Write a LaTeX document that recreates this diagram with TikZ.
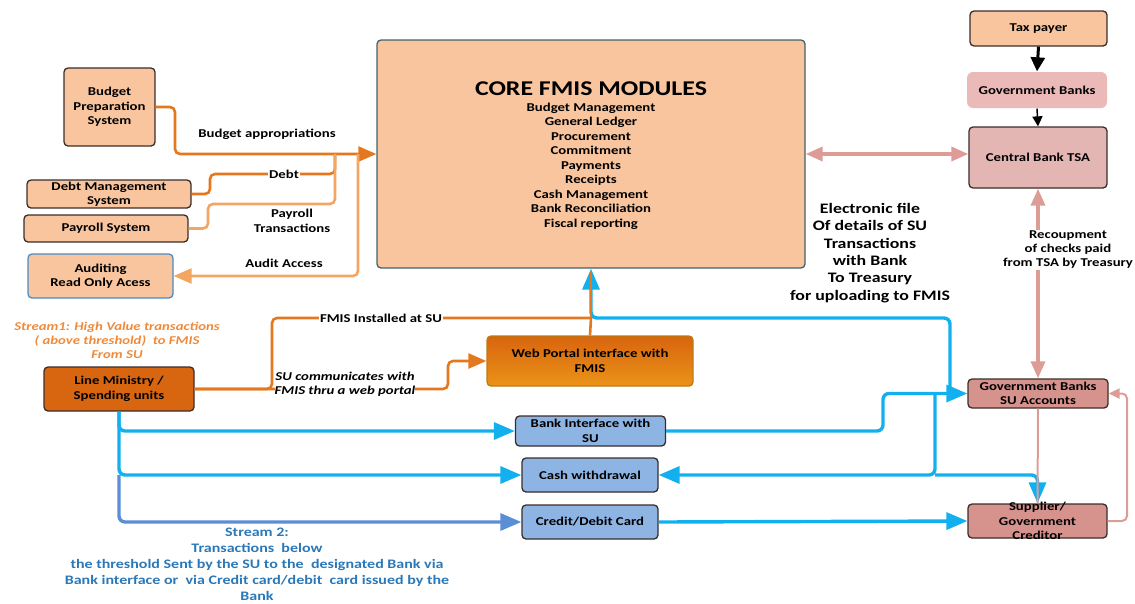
\documentclass[tikz,border=0pt]{standalone}
\usepackage{fontspec}
\setmainfont{Carlito}[FakeStretch=1.23]
\usepackage{tikz}
\usetikzlibrary{arrows.meta}
\newcommand{\pixel}{1pt}
\newcommand{\boxfont}{\fontsize{12}{14.5}\selectfont\bfseries}
\definecolor{peach}{HTML}{F8C59E}
\definecolor{boxline}{HTML}{3A2E2A}
\definecolor{coreline}{HTML}{41646A}
\definecolor{auditline}{HTML}{4A8CC8}
\definecolor{pinklight}{HTML}{EBBAB8}
\definecolor{pinkmid}{HTML}{E3B6B4}
\definecolor{pinkdark}{HTML}{D6938D}
\definecolor{pinkarrow}{HTML}{DE9C97}
\definecolor{orangedark}{HTML}{E5781E}
\definecolor{orangelight}{HTML}{F3A562}
\definecolor{ministry}{HTML}{D8650F}
\definecolor{bluebox}{HTML}{8EB4E3}
\definecolor{cyanflow}{HTML}{12B0EE}
\definecolor{steelflow}{HTML}{5A8ED6}
\definecolor{streamorange}{HTML}{EE8A3C}
\definecolor{streamblue}{HTML}{2A78B8}
\tikzset{
	box/.style={draw=boxline, line width=1.3pt, rounded corners=4pt, align=center, inner sep=0pt, font=\boxfont},
	peachbox/.style={box, fill=peach},
	pinkbox/.style={box, fill=pinkdark},
	bluebox/.style={box, fill=bluebox},
	lbl/.style={align=center, inner sep=1pt, font=\boxfont},
	into/.style={-{Triangle[length=21pt,width=17pt]}},
	feed/.style={-{Triangle[length=18pt,width=15pt]}},
	orangeline/.style={draw=orangedark, line width=2.6pt},
	orangethin/.style={draw=orangelight, line width=2.6pt},
	cyanline/.style={draw=cyanflow, line width=3.4pt},
	steelline/.style={draw=steelflow, line width=3.4pt},
	pinkline/.style={draw=pinkarrow, line width=3.4pt, {Triangle[length=17pt,width=14pt]}-{Triangle[length=17pt,width=14pt]}},
	pinkthin/.style={draw=pinkarrow, line width=2pt}
}

\begin{document}
\begin{tikzpicture}[x=\pixel,y=-\pixel]
	\useasboundingbox (0,0) rectangle (1135,603);

	\node[box, fill=peach, draw=coreline, minimum width=428, minimum height=228] (core) at (591,154) {};
	\node[lbl, font=\fontsize{21}{25}\selectfont\bfseries] (coretitle) at (591,89) {CORE FMIS MODULES};
	\node[lbl] (corelist) at (591,166) {Budget Management\\General Ledger\\Procurement\\Commitment\\Payments\\Receipts\\Cash Management\\Bank Reconciliation\\Fiscal reporting};

	\node[peachbox, minimum width=91, minimum height=78] (bps) at (109.5,107) {Budget\\Preparation\\System};
	\node[peachbox, minimum width=164, minimum height=28] (dms) at (109,194) {Debt Management\\System};
	\node[peachbox, minimum width=164, minimum height=27] (pay) at (106,228.5) {Payroll System};
	\node[peachbox, draw=auditline, minimum width=145, minimum height=44] (aud) at (100.5,276) {Auditing\\Read Only Acess};

	\node[peachbox, minimum width=137, minimum height=35] (tax) at (1038.5,28.5) {Tax payer};
	\node[box, draw=none, fill=pinklight, rounded corners=6pt, minimum width=140, minimum height=36] (gb) at (1037,90) {Government Banks};
	\node[box, fill=pinkmid, minimum width=138, minimum height=61] (tsa) at (1038,157.5) {Central Bank TSA};
	\node[pinkbox, minimum width=140, minimum height=29] (suacc) at (1038,393.5) {Government Banks\\SU Accounts};
	\node[pinkbox, minimum width=139, minimum height=34] (supplier) at (1037.5,521) {};
	\node[lbl, inner sep=0pt] (suppliertext) at (supplier) {Supplier/\\Government\\Creditor};

	\node[box, fill=ministry, minimum width=150, minimum height=44] (lm) at (119,389) {Line Ministry /\\Spending units};
	\node[box, draw=orangedark!60!olive, top color=ministry, bottom color=orangedark!80!yellow, minimum width=206, minimum height=50] (web) at (590,361) {Web Portal interface with\\FMIS};
	\node[bluebox, minimum width=150, minimum height=30] (bank) at (590.5,431) {Bank Interface with\\SU};
	\node[bluebox, minimum width=136, minimum height=34] (cash) at (590,475) {Cash withdrawal};
	\node[bluebox, minimum width=136, minimum height=34] (card) at (590,522) {Credit/Debit Card};

	\coordinate (budgetbend) at (175,154);
	\coordinate (debtbend) at (210,174);
	\coordinate (payrollbend) at (208,204);
	\coordinate (merge) at (335,154);
	\coordinate (auditbend) at (358,154);
	\coordinate (installbend) at (272,318);
	\coordinate (fmisjoin) at (591,318);
	\coordinate (portalbend) at (448,389);
	\coordinate (bankbend) at (883,393.5);
	\coordinate (fmisup) at (950,393.5);
	\coordinate (cashsplit) at (935,393.5);
	\coordinate (lmsplit) at (lm.south |- cash.west);
	\coordinate (supplierbend) at (1127,393.5);

	\draw[orangeline, feed] (bps.east) [rounded corners=5pt] -| (budgetbend) -- (core.west) [sharp corners];
	\draw[orangeline, rounded corners=5pt] (dms.east) -| (debtbend) -| (merge);
	\draw[orangethin, rounded corners=5pt] (pay.east) -| (payrollbend) -| (merge);
	\draw[orangethin, feed] (auditbend) [rounded corners=5pt] |- (aud.east) [sharp corners];

	\draw[orangeline, rounded corners=5pt] (lm.east) -| (installbend) -- (fmisjoin);
	\draw[orangeline] (web.north) -- (fmisjoin);
	\draw[cyanline, into] (fmisup) [rounded corners=6pt] |- (fmisjoin) -- (core.south) [sharp corners];
	\draw[draw=orangedark, line width=2pt] (fmisjoin) -- ([yshift=-2pt]core.south);
	\draw[orangeline, feed] (lm.east) [rounded corners=5pt] -- (portalbend) |- (web.west) [sharp corners];

	\draw[cyanline, into] (lm.south) [rounded corners=6pt] |- (bank.west) [sharp corners];
	\draw[cyanline, into] (lm.south) [rounded corners=6pt] |- (cash.west) [sharp corners];
	\draw[steelline, into] (lmsplit) [rounded corners=6pt] |- (card.west) [sharp corners];
	\draw[cyanline, into] (bank.east) [rounded corners=6pt] -| (bankbend) -- (suacc.west) [sharp corners];
	\draw[cyanline, into] (cashsplit) [rounded corners=6pt] |- (cash.east) [sharp corners];
	\draw[cyanline, into] (cashsplit |- cash.east) [rounded corners=6pt] -| (supplier.north) [sharp corners];
	\draw[cyanline, into] (card.east) -- (supplier.west);

	\draw[pinkline] (core.east) -- (core.east -| tsa.west);
	\draw[pinkline] (tsa.south) -- (suacc.north);
	\draw[pinkthin] (suacc.south) -- (supplier.north);
	\draw[pinkthin, -{Triangle[length=11pt,width=10pt]}] (supplier.east) [rounded corners=5pt] -| (supplierbend) -- (suacc.east) [sharp corners];
	\draw[line width=3pt, -{Triangle[length=14pt,width=14pt]}] (tax.south) -- (gb.north);
	\draw[line width=1.5pt, -{Triangle[length=10pt,width=10pt]}] (gb.south) -- (tsa.north);

	\node[lbl] (budgetlbl) at (267,134) {Budget appropriations};
	\node[lbl, fill=white] (debtlbl) at (284,174) {Debt};
	\node[lbl] (payrolllbl) at (292,221) {Payroll\\Transactions};
	\node[lbl] (auditlbl) at (284,263) {Audit Access};
	\node[lbl, fill=white] (installlbl) at (381,318) {FMIS Installed at SU};
	\node[lbl, fill=white, inner sep=0pt, font=\boxfont\itshape] (portallbl) at (345,384) {SU communicates with\\FMIS thru a web portal};
	\node[lbl, text=streamorange, font=\fontsize{12}{14}\selectfont\bfseries\itshape] (stream1) at (117,340) {Stream1: High Value transactions\\( above threshold)~ to FMIS\\From SU};
	\node[lbl, text=streamblue, font=\fontsize{13}{16}\selectfont\bfseries] (stream2) at (257,564.5) {Stream 2:\\Transactions~ below\\the threshold Sent by the SU to the~ designated Bank via\\Bank interface or~ via Credit card/debit~ card issued by the\\Bank};
	\node[lbl, font=\fontsize{14.5}{17.3}\selectfont\bfseries] (efile) at (870,253) {Electronic file\\Of details of SU\\Transactions\\with Bank\\To Treasury\\for uploading to FMIS};
	\node[lbl, fill=white, font=\fontsize{12}{14}\selectfont\bfseries] (recoup) at (1068,250) {Recoupment\\of checks paid\\from TSA by Treasury};

\end{tikzpicture}
\end{document}
